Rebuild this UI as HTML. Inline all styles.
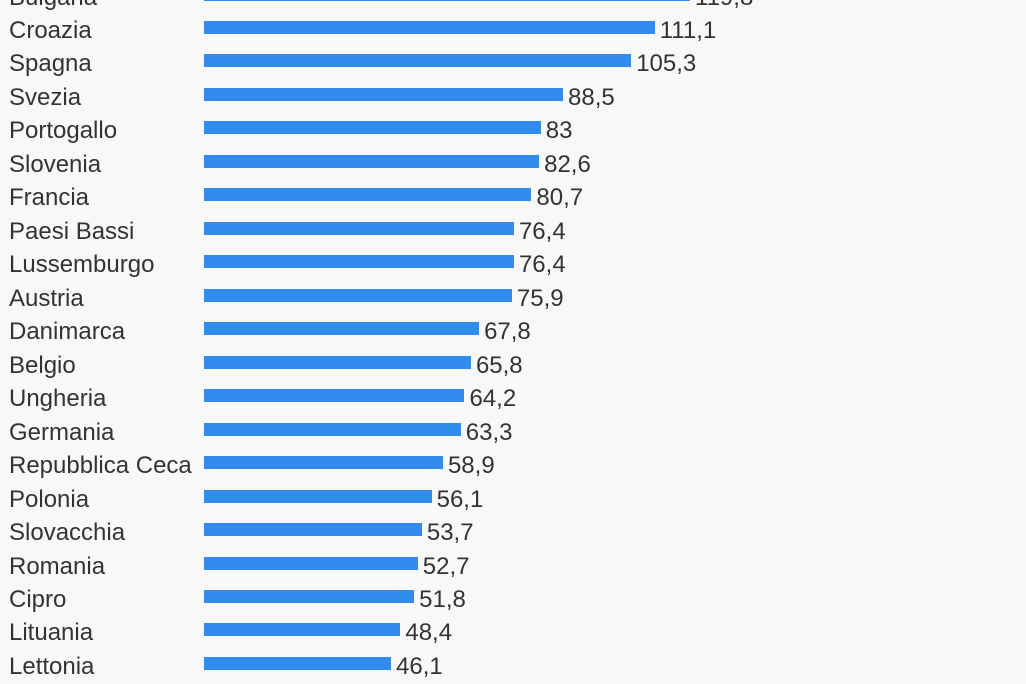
<!DOCTYPE html>
<html><head><meta charset="utf-8"><style>
body{margin:0;width:1026px;height:684px;background:#f8f8f8;overflow:hidden;position:relative;font-family:"Liberation Sans",sans-serif;color:#333}
.r{position:absolute;left:0;width:1026px;height:34px}
.l{position:absolute;left:9px;top:0;font-size:24px;line-height:34px}
.b{position:absolute;left:204px;top:7px;height:13px;background:#318ced}
.v{position:absolute;top:0;font-size:24px;line-height:34px}
</style></head><body>
<script>
const d=[["Bulgaria",119.8],["Croazia",111.1],["Spagna",105.3],["Svezia",88.5],["Portogallo",83],["Slovenia",82.6],["Francia",80.7],["Paesi Bassi",76.4],["Lussemburgo",76.4],["Austria",75.9],["Danimarca",67.8],["Belgio",65.8],["Ungheria",64.2],["Germania",63.3],["Repubblica Ceca",58.9],["Polonia",56.1],["Slovacchia",53.7],["Romania",52.7],["Cipro",51.8],["Lituania",48.4],["Lettonia",46.1]];
let h="";d.forEach((e,i)=>{const top=14+33.47*(i-1);const w=e[1]*4.057;
h+=`<div class="r" style="top:${top}px"><div class="l">${e[0]}</div><div class="b" style="width:${w}px"></div><div class="v" style="left:${204+w+5}px">${String(e[1]).replace('.',',')}</div></div>`;});
document.write(h);
</script>
</body></html>
